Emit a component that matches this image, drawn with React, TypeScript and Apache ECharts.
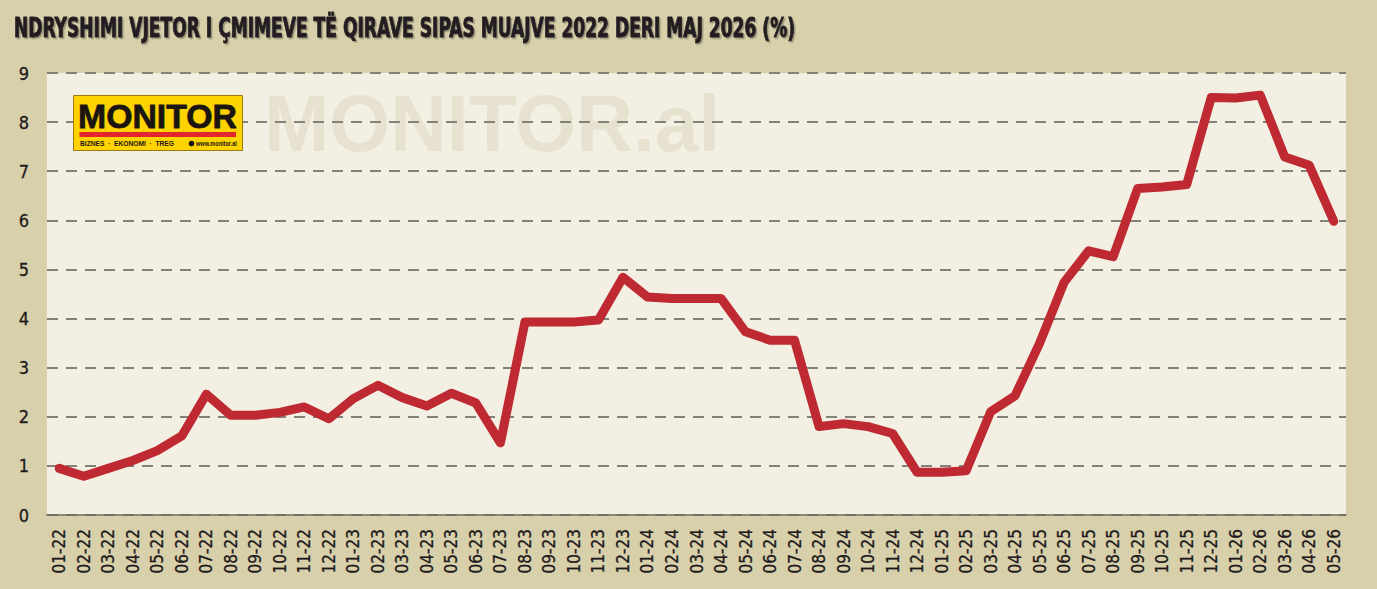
import React, { useEffect, useRef } from "react";
import * as echarts from "echarts";

const TITLE = "NDRYSHIMI VJETOR I ÇMIMEVE TË QIRAVE SIPAS MUAJVE 2022 DERI MAJ 2026 (%)";

const categories = [
  "01-22", "02-22", "03-22", "04-22", "05-22", "06-22", "07-22", "08-22", "09-22", "10-22", "11-22", "12-22",
  "01-23", "02-23", "03-23", "04-23", "05-23", "06-23", "07-23", "08-23", "09-23", "10-23", "11-23", "12-23",
  "01-24", "02-24", "03-24", "04-24", "05-24", "06-24", "07-24", "08-24", "09-24", "10-24", "11-24", "12-24",
  "01-25", "02-25", "03-25", "04-25", "05-25", "06-25", "07-25", "08-25", "09-25", "10-25", "11-25", "12-25",
  "01-26", "02-26", "03-26", "04-26", "05-26",
];

const rentChange = [
  0.95, 0.79, 0.95, 1.11, 1.31, 1.61, 2.46, 2.03, 2.03, 2.09, 2.2, 1.96,
  2.37, 2.64, 2.39, 2.22, 2.48, 2.28, 1.47, 3.93, 3.93, 3.93, 3.97, 4.84,
  4.44, 4.41, 4.41, 4.41, 3.73, 3.56, 3.56, 1.8, 1.86, 1.8, 1.66, 0.87,
  0.87, 0.9, 2.1, 2.43, 3.5, 4.74, 5.38, 5.26, 6.65, 6.68, 6.73, 8.5,
  8.49, 8.55, 7.29, 7.12, 5.98,
];

const yMin = 0;
const yMax = 9;
const yInterval = 1;

const COND = '"DejaVu Sans Condensed", "DejaVu Sans", sans-serif';
const ARIAL = '"Liberation Sans", Arial, sans-serif';

function measure(text: string, font: string): number {
  const c = document.createElement("canvas");
  const ctx = c.getContext("2d");
  if (!ctx) return 1;
  ctx.font = font;
  return ctx.measureText(text).width || 1;
}

export default function App() {
  const ref = useRef<HTMLDivElement>(null);

  useEffect(() => {
    if (!ref.current) return;
    const chart = echarts.init(ref.current, undefined, { renderer: "svg" });

    const titleW = measure(TITLE, `bold 26px ${COND}`);
    const logoW = measure("MONITOR", `bold 34px ${ARIAL}`);
    const wmW = measure("MONITOR.al", `bold 79px ${ARIAL}`);
    const tagW = measure("BIZNES  ·  EKONOMI  ·  TREG", `bold 7px ${ARIAL}`);
    const urlW = measure("www.monitor.al", `bold 7px ${ARIAL}`);

    chart.setOption({
      animation: false,
      backgroundColor: "#D8D0AB",
      grid: { left: 47, right: 31, top: 73, bottom: 74, containLabel: false },
      graphic: [
        {
          type: "rect",
          z: -3,
          shape: { x: 47, y: 73, width: 1299, height: 442 },
          style: { fill: "#F3F0E3" },
          silent: true,
        },
        {
          type: "text",
          z: -2,
          x: 264,
          y: 124,
          scaleX: 456 / wmW,
          style: {
            text: "MONITOR.al",
            font: `bold 79px ${ARIAL}`,
            fill: "#E7E2CF",
            verticalAlign: "middle",
            align: "left",
          },
          silent: true,
        },
        {
          type: "text",
          z: 10,
          x: 14,
          y: 28,
          scaleX: 781 / titleW,
          style: {
            text: TITLE,
            font: `bold 26px ${COND}`,
            fill: "#231F20",
            stroke: "#231F20",
            lineWidth: 0.9,
            verticalAlign: "middle",
            align: "left",
            textShadowColor: "rgba(0,0,0,0.3)",
            textShadowOffsetX: 1.5,
            textShadowOffsetY: 1.5,
            textShadowBlur: 1,
          },
        },
        {
          type: "group",
          z: 10,
          children: [
            {
              type: "rect",
              z: 10,
              shape: { x: 73.5, y: 95.5, width: 169, height: 55 },
              style: { fill: "#FFD300", stroke: "#9A7A10", lineWidth: 1 },
            },
            {
              type: "text",
              z: 11,
              x: 78,
              y: 115.5,
              scaleX: 159 / logoW,
              style: {
                text: "MONITOR",
                font: `bold 34px ${ARIAL}`,
                fill: "#1B1512",
                stroke: "#1B1512",
                lineWidth: 0.8,
                verticalAlign: "middle",
                align: "left",
              },
            },
            {
              type: "rect",
              z: 11,
              shape: { x: 79.5, y: 132, width: 156.5, height: 5 },
              style: { fill: "#E3262E" },
            },
            {
              type: "text",
              z: 11,
              x: 80,
              y: 143.5,
              scaleX: 94 / tagW,
              style: {
                text: "BIZNES  ·  EKONOMI  ·  TREG",
                font: `bold 7px ${ARIAL}`,
                fill: "#1B1512",
                verticalAlign: "middle",
                align: "left",
              },
            },
            {
              type: "circle",
              z: 11,
              shape: { cx: 191.5, cy: 143.5, r: 2.8 },
              style: { fill: "#1B1512" },
            },
            {
              type: "text",
              z: 11,
              x: 196,
              y: 143.5,
              scaleX: 41 / urlW,
              style: {
                text: "www.monitor.al",
                font: `bold 7px ${ARIAL}`,
                fill: "#1B1512",
                verticalAlign: "middle",
                align: "left",
              },
            },
          ],
        },
      ],
      xAxis: {
        type: "category",
        data: categories,
        boundaryGap: true,
        axisLine: { show: true, lineStyle: { color: "#6E6B63", width: 1.5 } },
        axisTick: { show: false },
        splitLine: { show: false },
        axisLabel: {
          rotate: 90,
          interval: 0,
          margin: 14,
          color: "#1E1A1B",
          fontSize: 17,
          fontFamily: COND,
          textBorderColor: "#1E1A1B",
          textBorderWidth: 0.3,
        },
      },
      yAxis: {
        type: "value",
        min: yMin,
        max: yMax,
        interval: yInterval,
        axisLine: { show: false },
        axisTick: { show: false },
        splitLine: {
          show: true,
          lineStyle: { color: "#848178", width: 2, type: [11, 8] },
        },
        axisLabel: {
          margin: 18,
          color: "#1E1A1B",
          fontSize: 18,
          fontFamily: COND,
          textBorderColor: "#1E1A1B",
          textBorderWidth: 0.3,
        },
      },
      series: [
        {
          type: "line",
          data: rentChange,
          symbol: "none",
          z: 5,
          lineStyle: { color: "#BE2932", width: 9, cap: "round", join: "round" },
        },
      ],
    });

    return () => chart.dispose();
  }, []);

  return (
    <div
      ref={ref}
      style={{ position: "fixed", left: 0, top: 0, width: 1377, height: 589 }}
    />
  );
}
